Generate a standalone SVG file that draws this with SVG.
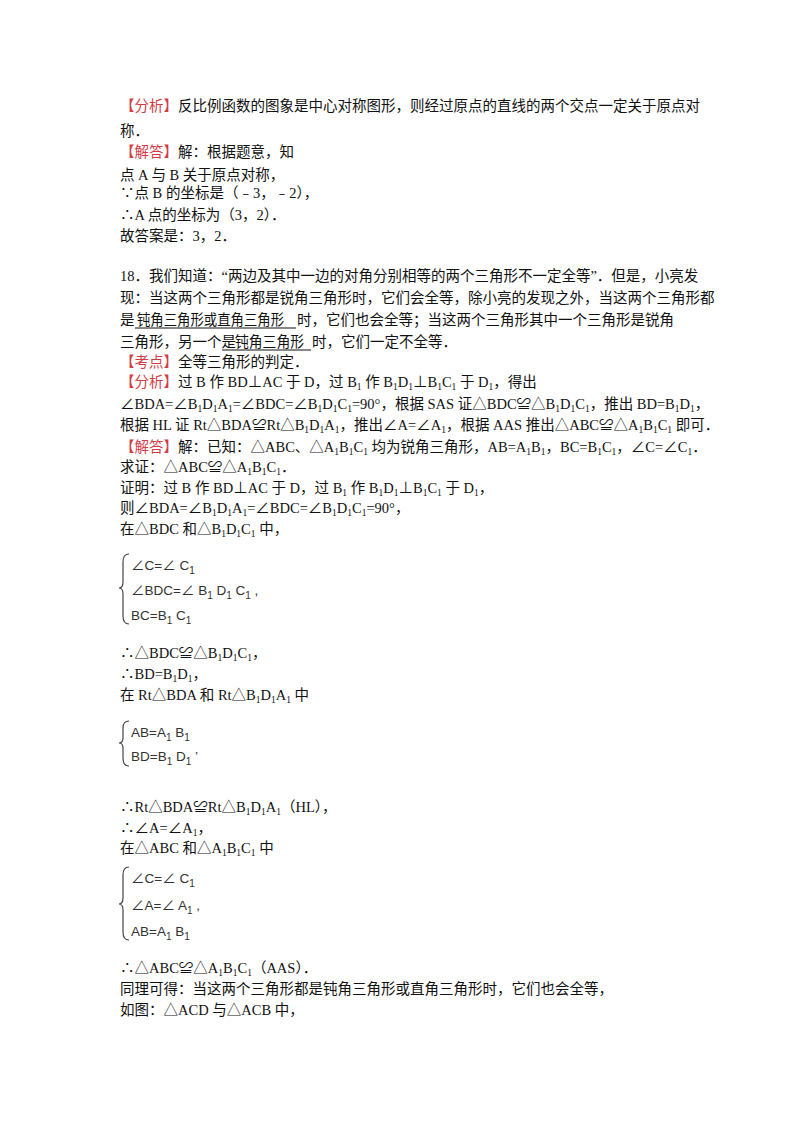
<svg xmlns="http://www.w3.org/2000/svg" width="800" height="1132" viewBox="0 0 800 1132">
<style>
text{font-family:"Liberation Serif","Noto Sans CJK SC",serif;font-size:14.5px;fill:#111}
.r{fill:#d23c46}
.s{font-size:9.5px;baseline-shift:-3px}
.b text{font-family:"Liberation Sans","Noto Sans CJK SC",sans-serif;font-size:13.5px;fill:#333}
.b .bs{font-size:10px;baseline-shift:-4px}
.br{fill:none;stroke:#444;stroke-width:1.2}
.u{stroke:#111;stroke-width:1}
</style>
<rect width="800" height="1132" fill="#fff"/>
<g id="text">
<text x="120" y="111"><tspan class="r">【分析】</tspan>反比例函数的图象是中心对称图形，则经过原点的直线的两个交点一定关于原点对</text>
<text x="120" y="136">称．</text>
<text x="120" y="157"><tspan class="r">【解答】</tspan>解：根据题意，知</text>
<text x="120" y="180">点 A 与 B 关于原点对称，</text>
<text x="120" y="198">∵点 B 的坐标是（﹣3，﹣2），</text>
<text x="120" y="220">∴A 点的坐标为（3，2）．</text>
<text x="120" y="241">故答案是：3，2．</text>
<text x="120" y="281">18．我们知道：“两边及其中一边的对角分别相等的两个三角形不一定全等”．但是，小亮发</text>
<text x="120" y="303">现：当这两个三角形都是锐角三角形时，它们会全等，除小亮的发现之外，当这两个三角形都</text>
<text x="120" y="325">是</text>
<text x="137" y="325" textLength="147" lengthAdjust="spacingAndGlyphs">钝角三角形或直角三角形</text>
<text x="297" y="325">时，它们也会全等；当这两个三角形其中一个三角形是锐角</text>
<line class="u" x1="135" y1="328" x2="296" y2="328"/>
<text x="120" y="347">三角形，另一个是</text>
<text x="235" y="347" textLength="69" lengthAdjust="spacingAndGlyphs">钝角三角形</text>
<text x="312" y="347">时，它们一定不全等．</text>
<line class="u" x1="222" y1="350" x2="311" y2="350"/>
<text x="120" y="367"><tspan class="r">【考点】</tspan>全等三角形的判定．</text>
<text x="120" y="387"><tspan class="r">【分析】</tspan>过 B 作 BD⊥AC 于 D，过 B<tspan class="s">1</tspan> 作 B<tspan class="s">1</tspan>D<tspan class="s">1</tspan>⊥B<tspan class="s">1</tspan>C<tspan class="s">1</tspan> 于 D<tspan class="s">1</tspan>，得出</text>
<text x="120" y="409">∠BDA=∠B<tspan class="s">1</tspan>D<tspan class="s">1</tspan>A<tspan class="s">1</tspan>=∠BDC=∠B<tspan class="s">1</tspan>D<tspan class="s">1</tspan>C<tspan class="s">1</tspan>=90°，根据 SAS 证△BDC≌△B<tspan class="s">1</tspan>D<tspan class="s">1</tspan>C<tspan class="s">1</tspan>，推出 BD=B<tspan class="s">1</tspan>D<tspan class="s">1</tspan>，</text>
<text x="120" y="430">根据 HL 证 Rt△BDA≌Rt△B<tspan class="s">1</tspan>D<tspan class="s">1</tspan>A<tspan class="s">1</tspan>，推出∠A=∠A<tspan class="s">1</tspan>，根据 AAS 推出△ABC≌△A<tspan class="s">1</tspan>B<tspan class="s">1</tspan>C<tspan class="s">1</tspan> 即可．</text>
<text x="120" y="452"><tspan class="r">【解答】</tspan>解：已知：△ABC、△A<tspan class="s">1</tspan>B<tspan class="s">1</tspan>C<tspan class="s">1</tspan> 均为锐角三角形，AB=A<tspan class="s">1</tspan>B<tspan class="s">1</tspan>，BC=B<tspan class="s">1</tspan>C<tspan class="s">1</tspan>，∠C=∠C<tspan class="s">1</tspan>．</text>
<text x="120" y="472">求证：△ABC≌△A<tspan class="s">1</tspan>B<tspan class="s">1</tspan>C<tspan class="s">1</tspan>．</text>
<text x="120" y="493">证明：过 B 作 BD⊥AC 于 D，过 B<tspan class="s">1</tspan> 作 B<tspan class="s">1</tspan>D<tspan class="s">1</tspan>⊥B<tspan class="s">1</tspan>C<tspan class="s">1</tspan> 于 D<tspan class="s">1</tspan>，</text>
<text x="120" y="513">则∠BDA=∠B<tspan class="s">1</tspan>D<tspan class="s">1</tspan>A<tspan class="s">1</tspan>=∠BDC=∠B<tspan class="s">1</tspan>D<tspan class="s">1</tspan>C<tspan class="s">1</tspan>=90°，</text>
<text x="120" y="534">在△BDC 和△B<tspan class="s">1</tspan>D<tspan class="s">1</tspan>C<tspan class="s">1</tspan> 中，</text>
<text x="120" y="658">∴△BDC≌△B<tspan class="s">1</tspan>D<tspan class="s">1</tspan>C<tspan class="s">1</tspan>，</text>
<text x="120" y="679">∴BD=B<tspan class="s">1</tspan>D<tspan class="s">1</tspan>，</text>
<text x="120" y="700">在 Rt△BDA 和 Rt△B<tspan class="s">1</tspan>D<tspan class="s">1</tspan>A<tspan class="s">1</tspan> 中</text>
<text x="120" y="812">∴Rt△BDA≌Rt△B<tspan class="s">1</tspan>D<tspan class="s">1</tspan>A<tspan class="s">1</tspan>（HL），</text>
<text x="120" y="833">∴∠A=∠A<tspan class="s">1</tspan>，</text>
<text x="120" y="853">在△ABC 和△A<tspan class="s">1</tspan>B<tspan class="s">1</tspan>C<tspan class="s">1</tspan> 中</text>
<text x="120" y="973">∴△ABC≌△A<tspan class="s">1</tspan>B<tspan class="s">1</tspan>C<tspan class="s">1</tspan>（AAS）．</text>
<text x="120" y="994">同理可得：当这两个三角形都是钝角三角形或直角三角形时，它们也会全等，</text>
<text x="120" y="1015">如图：△ACD 与△ACB 中，</text>
</g>
<g id="brace1" class="b">
<path class="br" d="M129,554 Q123,554 123,562 L123,582 Q123,588 119,588 Q123,588 123,594 L123,616 Q123,624 129,624"/>
<text x="131" y="570">∠C=∠ C<tspan class="bs">1</tspan></text>
<text x="131" y="595">∠BDC=∠ B<tspan class="bs">1</tspan> D<tspan class="bs">1</tspan> C<tspan class="bs">1</tspan> ,</text>
<text x="131" y="620">BC=B<tspan class="bs">1</tspan> C<tspan class="bs">1</tspan></text>
</g>
<g id="brace2" class="b">
<path class="br" d="M129,721 Q123,721 123,728 L123,738 Q123,743 119,743 Q123,743 123,748 L123,758 Q123,766 129,766"/>
<text x="131" y="737">AB=A<tspan class="bs">1</tspan> B<tspan class="bs">1</tspan></text>
<text x="131" y="761">BD=B<tspan class="bs">1</tspan> D<tspan class="bs">1</tspan> ’</text>
</g>
<g id="brace3" class="b">
<path class="br" d="M129,867 Q123,867 123,875 L123,898 Q123,904 119,904 Q123,904 123,910 L123,932 Q123,940 129,940"/>
<text x="131" y="883">∠C=∠ C<tspan class="bs">1</tspan></text>
<text x="131" y="910">∠A=∠ A<tspan class="bs">1</tspan> ,</text>
<text x="131" y="936">AB=A<tspan class="bs">1</tspan> B<tspan class="bs">1</tspan></text>
</g>
<g id="connectors"/>
</svg>
